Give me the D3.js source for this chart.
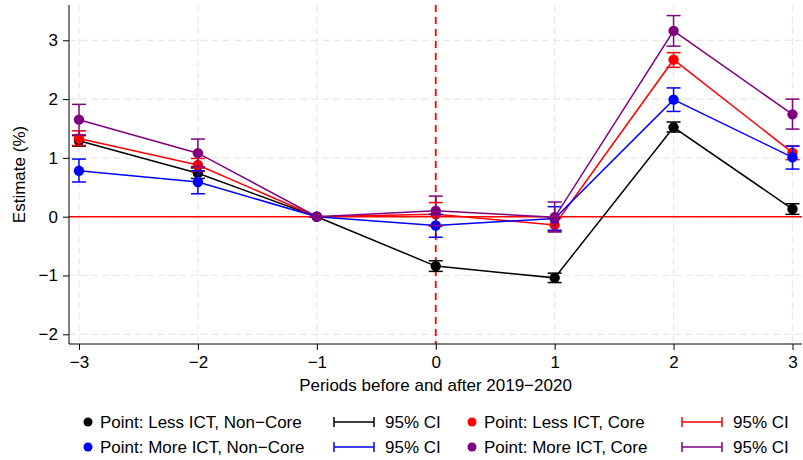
<!DOCTYPE html>
<html>
<head>
<meta charset="utf-8">
<script src="https://cdn.jsdelivr.net/npm/d3@7"></script>
<style>
  body { margin: 0; background: #fff; }
  svg text { font-family: "Liberation Sans", Arial, Helvetica, sans-serif; fill: #000; }
</style>
</head>
<body>
<svg id="chart" width="803" height="460"></svg>
<script>
// Event-study estimates by period relative to 2019–2020
const periods = [-3, -2, -1, 0, 1, 2, 3];

const lessNonCore     = [1.29, 0.74, 0, -0.84, -1.04, 1.52, 0.13];
const lessNonCoreLow  = [1.20, 0.65, 0, -0.93, -1.12, 1.44, 0.04];
const lessNonCoreHigh = [1.38, 0.83, 0, -0.75, -0.96, 1.61, 0.22];

const lessCore     = [1.33, 0.88, 0, 0.04, -0.14, 2.67, 1.09];
const lessCoreLow  = [1.21, 0.77, 0, -0.16, -0.25, 2.54, 0.97];
const lessCoreHigh = [1.46, 0.99, 0, 0.24, -0.03, 2.79, 1.20];

const moreNonCore     = [0.78, 0.59, 0, -0.15, -0.03, 1.99, 1.01];
const moreNonCoreLow  = [0.59, 0.39, 0, -0.35, -0.23, 1.79, 0.81];
const moreNonCoreHigh = [0.98, 0.78, 0, 0.04, 0.17, 2.19, 1.20];

const moreCore     = [1.65, 1.08, 0, 0.10, -0.01, 3.16, 1.74];
const moreCoreLow  = [1.39, 0.85, 0, -0.15, -0.26, 2.90, 1.49];
const moreCoreHigh = [1.91, 1.32, 0, 0.35, 0.25, 3.42, 2.00];

const yTicks = [-2, -1, 0, 1, 2, 3];
const seriesNames = ["Point: Less ICT, Non\u2212Core", "Point: Less ICT, Core",
                     "Point: More ICT, Non\u2212Core", "Point: More ICT, Core"];
const ciLabel = "95% CI";
const xTitle = "Periods before and after 2019\u22122020";
const yTitle = "Estimate (%)";

const series = [
  { name: seriesNames[0], color: "#000000", est: lessNonCore, lo: lessNonCoreLow, hi: lessNonCoreHigh },
  { name: seriesNames[1], color: "#ff0000", est: lessCore,    lo: lessCoreLow,    hi: lessCoreHigh },
  { name: seriesNames[2], color: "#0000ff", est: moreNonCore, lo: moreNonCoreLow, hi: moreNonCoreHigh },
  { name: seriesNames[3], color: "#800080", est: moreCore,    lo: moreCoreLow,    hi: moreCoreHigh }
];

const svg = d3.select("#chart");
const plotL = 69, plotR = 802, plotT = 5, plotB = 344;
const fontSize = "17px";

const x = d3.scaleLinear().domain([-3.084, 3.08]).range([plotL, plotR]);
const y = d3.scaleLinear().domain([-2.165, 3.60]).range([plotB, plotT]);

const minus = s => String(s).replace("-", "\u2212");

// grid
const grid = svg.append("g");
grid.selectAll("line.h").data(yTicks).join("line")
  .attr("x1", plotL).attr("x2", plotR)
  .attr("y1", d => y(d)).attr("y2", d => y(d))
  .attr("stroke", "#e8e8e8").attr("stroke-width", 1.2).attr("stroke-dasharray", "7,4");
grid.selectAll("line.v").data(periods).join("line")
  .attr("x1", d => x(d)).attr("x2", d => x(d))
  .attr("y1", plotT).attr("y2", plotB)
  .attr("stroke", "#e8e8e8").attr("stroke-width", 1.2).attr("stroke-dasharray", "7,4");

// reference lines
svg.append("line")
  .attr("x1", plotL).attr("x2", plotR).attr("y1", y(0)).attr("y2", y(0))
  .attr("stroke", "#ff0000").attr("stroke-width", 1.5);
svg.append("line")
  .attr("x1", x(0)).attr("x2", x(0)).attr("y1", plotT).attr("y2", plotB)
  .attr("stroke", "#ff0000").attr("stroke-width", 1.8).attr("stroke-dasharray", "7,5");

// axes
const yAxis = svg.append("g").attr("transform", `translate(${plotL},0)`)
  .call(d3.axisLeft(y).tickValues(yTicks).tickSize(6).tickPadding(5).tickFormat(minus));
yAxis.select(".domain").attr("d", `M0,${plotT}V${plotB}`);
const xAxis = svg.append("g").attr("transform", `translate(0,${plotB})`)
  .call(d3.axisBottom(x).tickValues(periods).tickSize(6).tickPadding(6).tickFormat(minus));
xAxis.select(".domain").attr("d", `M${plotL},0H${plotR}`);
svg.selectAll(".tick text").style("font-size", fontSize);
svg.selectAll(".domain, .tick line").attr("stroke", "#000").attr("stroke-width", 1);

svg.append("text").attr("x", (plotL + plotR) / 2).attr("y", 391)
  .attr("text-anchor", "middle").style("font-size", fontSize).text(xTitle);
svg.append("text").attr("transform", `translate(25,${(plotT + plotB) / 2}) rotate(-90)`)
  .attr("text-anchor", "middle").style("font-size", fontSize).text(yTitle);

// series: CI whiskers, connecting lines, points
const line = d3.line().x((d, i) => x(periods[i])).y(d => y(d));
const cap = 7;
series.forEach(s => {
  const g = svg.append("g");
  g.append("path").datum(s.est).attr("d", line)
    .attr("fill", "none").attr("stroke", s.color).attr("stroke-width", 1.5);
  const ci = g.selectAll("g.ci").data(periods.map((p, i) => ({ p, lo: s.lo[i], hi: s.hi[i] })))
    .join("g").attr("stroke", s.color).attr("stroke-width", 1.5);
  ci.append("line").attr("x1", d => x(d.p)).attr("x2", d => x(d.p))
    .attr("y1", d => y(d.lo)).attr("y2", d => y(d.hi));
  ci.append("line").attr("x1", d => x(d.p) - cap).attr("x2", d => x(d.p) + cap)
    .attr("y1", d => y(d.lo)).attr("y2", d => y(d.lo));
  ci.append("line").attr("x1", d => x(d.p) - cap).attr("x2", d => x(d.p) + cap)
    .attr("y1", d => y(d.hi)).attr("y2", d => y(d.hi));
  g.selectAll("circle").data(s.est).join("circle")
    .attr("cx", (d, i) => x(periods[i])).attr("cy", d => y(d)).attr("r", 5.2)
    .attr("fill", s.color);
});

// legend: two columns of (point marker, CI marker)
const legendPos = [
  { px: 88, py: 422 }, { px: 472, py: 422 },
  { px: 88, py: 447 }, { px: 472, py: 447 }
];
const ciOffset = [246, 210];
series.forEach((s, i) => {
  const { px, py } = legendPos[i];
  const off = ciOffset[i % 2];
  const g = svg.append("g");
  g.append("circle").attr("cx", px).attr("cy", py).attr("r", 4.5).attr("fill", s.color);
  g.append("text").attr("x", px + 12).attr("y", py + 6).style("font-size", fontSize).text(s.name);
  const cx0 = px + off, cx1 = px + off + 40;
  g.append("line").attr("x1", cx0).attr("x2", cx1).attr("y1", py).attr("y2", py)
    .attr("stroke", s.color).attr("stroke-width", 1.5);
  [cx0, cx1].forEach(cx => g.append("line").attr("x1", cx).attr("x2", cx)
    .attr("y1", py - 5).attr("y2", py + 5).attr("stroke", s.color).attr("stroke-width", 1.5));
  g.append("text").attr("x", cx1 + 11).attr("y", py + 6).style("font-size", fontSize).text(ciLabel);
});
</script>
</body>
</html>
